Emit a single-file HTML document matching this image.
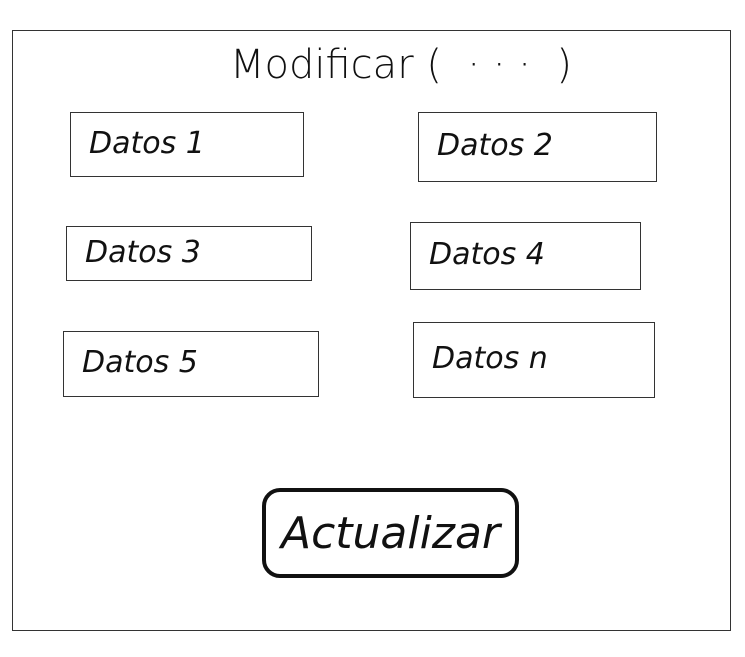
<!DOCTYPE html>
<html>
<head>
<meta charset="utf-8">
<style>
  html,body{margin:0;padding:0;background:#fff;}
  body{width:745px;height:657px;position:relative;overflow:hidden;
       font-family:"Liberation Sans","DejaVu Sans",sans-serif;color:#111;}
  .frame{position:absolute;left:12px;top:30px;width:719px;height:601px;border:1.5px solid #333;box-sizing:border-box;}
  .title{position:absolute;left:230px;top:42px;width:330px;font-size:40px;font-weight:300;
         letter-spacing:0px;white-space:nowrap;font-family:"DejaVu Sans","Liberation Sans",sans-serif;font-weight:200;}
  .field{position:absolute;border:1.5px solid #333;box-sizing:border-box;}
  .field span{position:absolute;left:18px;top:50%;transform:translateY(-55%);font-size:30px;
              font-family:"DejaVu Sans","Liberation Sans",sans-serif;font-weight:200;white-space:nowrap;font-style:italic;}
  .btn{position:absolute;left:262px;top:488px;width:257px;height:90px;border:4px solid #111;border-radius:18px;box-sizing:border-box;
       display:flex;align-items:center;justify-content:center;font-size:44px;font-style:italic;
       font-family:"DejaVu Sans","Liberation Sans",sans-serif;font-weight:200;}
</style>
</head>
<body>
<div class="frame"></div>
<div class="title">Modificar ( &nbsp;· · · &nbsp;)</div>

<div class="field" style="left:70px;top:112px;width:234px;height:65px;"><span>Datos 1</span></div>
<div class="field" style="left:418px;top:112px;width:239px;height:70px;"><span>Datos 2</span></div>
<div class="field" style="left:66px;top:226px;width:246px;height:55px;"><span>Datos 3</span></div>
<div class="field" style="left:410px;top:222px;width:231px;height:68px;"><span>Datos 4</span></div>
<div class="field" style="left:63px;top:331px;width:256px;height:66px;"><span>Datos 5</span></div>
<div class="field" style="left:413px;top:322px;width:242px;height:76px;"><span>Datos n</span></div>

<div class="btn">Actualizar</div>
</body>
</html>
